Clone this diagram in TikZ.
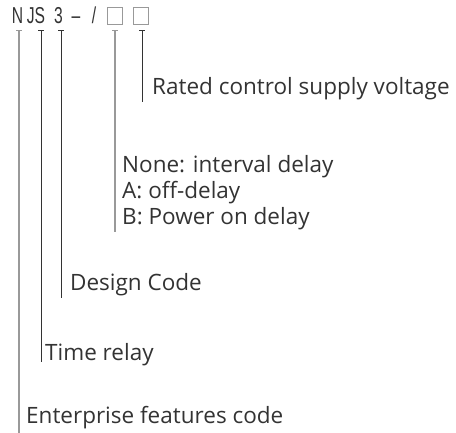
\documentclass[tikz,border=0pt]{standalone}
\usepackage{fontspec}
\setmainfont{Open Sans}
\newfontfamily\codefont{Liberation Sans}
\usetikzlibrary{arrows.meta, positioning}
\definecolor{ink}{HTML}{333333}
\definecolor{pale}{HTML}{999999}
\newcommand{\narrowtext}[1]{\scalebox{0.68}[1]{#1}}
\tikzset{
  code/.style={
    anchor=base,
    inner sep=0pt,
    text=ink,
    font=\codefont\fontsize{23}{23}\selectfont
    },
  slot/.style={
    rectangle,
    minimum width=15pt,
    minimum height=17pt,
    inner sep=0pt,
    draw=pale,
    line width=0.9pt
    },
  desc/.style={
    anchor=base west,
    inner sep=0pt,
    text=ink,
    font=\fontsize{22.5}{26}\selectfont
    },
  stem/.style={
    {Bar[width=6pt]}-,
    line width=0.8pt,
    draw=ink},
  stemgray/.style={
    stem,
    line width=1.2pt,
    draw=pale}
}

\begin{document}
\begin{tikzpicture}[x=1pt, y=-1pt]
\useasboundingbox (0,0) rectangle (456,433);
% model code
\node (cN) [code] at (17.5,24) {\narrowtext{N}};
\node (cJS) [code] at (36,24) {\narrowtext{JS}};
\node (c3) [code] at (58.5,24) {\narrowtext{3}};
\node (cDash) [code] at (76,24) {\narrowtext{–}};
\node (cSlash) [code] at (94,24) {\narrowtext{/}};
\node (box1) [slot] at (114.5,15.5) {};
\node (box2) [slot] at (140.5,15.5) {};
% explanations
\node (lRated) [desc] at (152,95) {Rated control supply voltage};
\node (lNone) [desc] at (122,173) {None: interval delay};
\node (lOff) [desc] at (122,199) {A: off-delay};
\node (lOn) [desc] at (122,225) {B: Power on delay};
\node (lDesign) [desc] at (70,291) {Design Code};
\node (lTime) [desc] at (45,361) {Time relay};
\node (lEnt) [desc] at (26,424) {Enterprise features code};
% stems
\coordinate (tN) at (19,30);
\coordinate (tJS) at (41,30);
\coordinate (t3) at (61,30);
\coordinate (tB1) at (115,30);
\coordinate (tB2) at (142,30);
\coordinate (bN) at (19,433);
\coordinate (bJS) at (41,362);
\coordinate (b3) at (61,298);
\coordinate (bB1) at (115,232);
\coordinate (bB2) at (142,102);
\draw[stemgray] (tN) -- (bN);
\draw[stem] (tJS) -- (bJS);
\draw[stem] (t3) -- (b3);
\draw[stemgray] (tB1) -- (bB1);
\draw[stem] (tB2) -- (bB2);
\end{tikzpicture}
\end{document}
